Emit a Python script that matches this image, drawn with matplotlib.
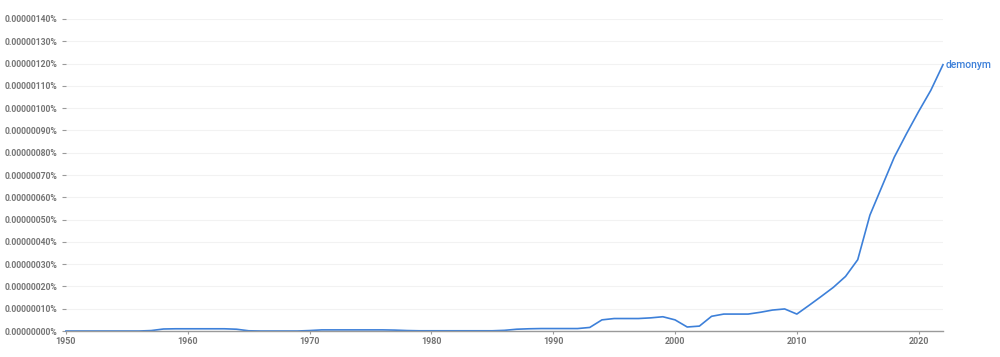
import matplotlib
matplotlib.use("Agg")
import matplotlib.pyplot as plt
from matplotlib.ticker import FuncFormatter

# Ngram frequency of "demonym", in units of 0.00000001 %
years = list(range(1950, 2023))
freq = [
    0, 0, 0, 0, 0, 0, 0, 0.2, 0.9, 1.0,          # 1950-1959
    1.0, 1.0, 1.0, 1.0, 0.8, 0.1, 0, 0, 0, 0,    # 1960-1969
    0.2, 0.5, 0.5, 0.5, 0.5, 0.5, 0.5, 0.4, 0.2, 0.1,  # 1970-1979
    0.1, 0.1, 0.1, 0.1, 0.1, 0.1, 0.3, 0.8, 1.0, 1.1,  # 1980-1989
    1.1, 1.1, 1.1, 1.6, 5.0, 5.6, 5.6, 5.6, 5.9, 6.4,  # 1990-1999
    5.0, 1.8, 2.2, 6.6, 7.6, 7.6, 7.6, 8.4, 9.4, 9.9,  # 2000-2009
    7.6, 11.5, 15.5, 19.6, 24.5, 32.0, 52.0, 65.0, 78.0, 88.5,  # 2010-2019
    98.5, 108.0, 119.5,                          # 2020-2022
]
series_name = "demonym"
yticks = list(range(0, 141, 10))
xticks = [1950, 1960, 1970, 1980, 1990, 2000, 2010, 2020]

line_color = "#3d80d9"
text_color = "#757575"

plt.rcParams['font.family'] = ['Roboto', 'DejaVu Sans']

fig = plt.figure(figsize=(10, 3.57), dpi=100)
ax = fig.add_axes([0.066, 0.0728, 0.877, 0.874])

ax.plot(years, freq, color=line_color, linewidth=1.2, clip_on=False,
        solid_joinstyle='round')
ax.text(years[-1] + 0.2, freq[-1], series_name, color=line_color,
        fontsize=7.5, va='center', ha='left', fontweight='medium')

ax.set_xlim(1950, 2022)
ax.set_ylim(0, 140)
ax.set_yticks(yticks)
ax.set_xticks(xticks)
ax.yaxis.set_major_formatter(FuncFormatter(lambda v, p: f"{v * 1e-8:.8f}%"))

ax.grid(axis='y', color='#f2f2f2', linewidth=0.8)
ax.set_axisbelow(True)
for side in ['left', 'right', 'top']:
    ax.spines[side].set_visible(False)
ax.spines['bottom'].set_color('#9a9a9a')
ax.spines['bottom'].set_linewidth(1.0)

ax.tick_params(axis='y', length=3, width=0.8, color='#9a9a9a', pad=3,
               labelsize=6.2, labelcolor=text_color)
ax.tick_params(axis='x', length=2, width=0.8, color='#9a9a9a', pad=2.5,
               labelsize=6.5, labelcolor=text_color)
for lbl in ax.get_yticklabels() + ax.get_xticklabels():
    lbl.set_fontweight('bold')

fig.savefig("out.png", dpi=100)
